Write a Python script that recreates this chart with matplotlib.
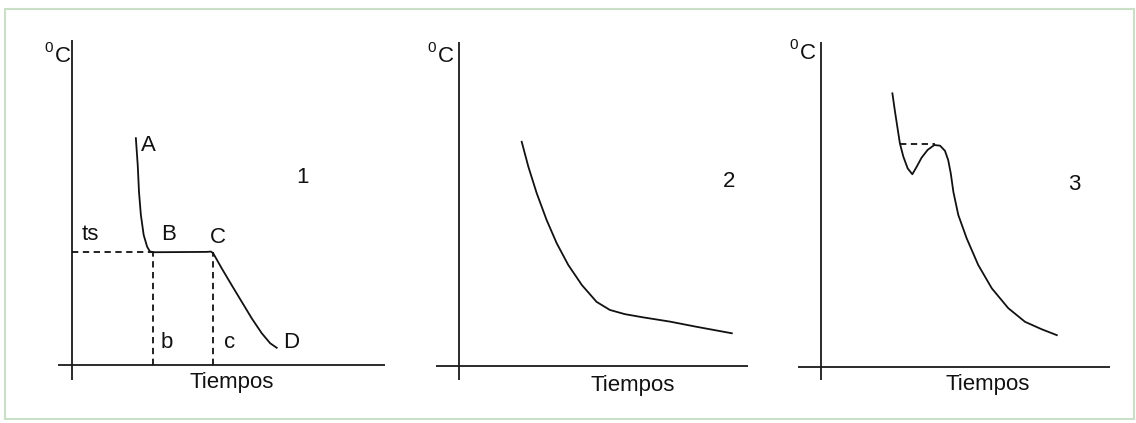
import matplotlib
matplotlib.use("Agg")
from matplotlib import pyplot as plt
from matplotlib.patches import Rectangle

plt.rcParams['font.family'] = ['Liberation Sans', 'DejaVu Sans']

# Curva 1: enfriamiento de un metal puro (A -> B -> C -> D)
t1 = [20.4, 21.0, 21.4, 22.0, 22.9, 24.0, 24.9, 26.5, 43.0, 44.4, 45.1,
      47.8, 51.0, 54.2, 57.4, 60.6, 63.3, 65.4]
T1 = [69.8, 61.5, 53.3, 46.2, 40.0, 36.4, 34.9, 34.7, 34.8, 34.9, 34.4,
      29.8, 24.6, 19.5, 14.4, 9.8, 6.7, 5.3]
ts_1 = 34.8   # temperatura de solidificacion
b_1 = 25.8    # inicio de solidificacion
c_1 = 45.1    # fin de solidificacion

# Curva 2: enfriamiento sin meseta
t2 = [21.7, 24.0, 26.9, 30.3, 33.8, 37.8, 42.5, 47.6, 52.2, 57.4, 63.8, 73.0, 82.2, 94.4]
T2 = [69.2, 61.5, 53.3, 45.1, 37.9, 31.2, 25.0, 19.8, 17.3, 16.0, 15.0, 13.7, 12.1, 10.1]

# Curva 3: subenfriamiento
t3 = [24.7, 25.6, 26.5, 27.3, 28.5, 30.0, 31.6, 33.1, 34.8, 36.9, 39.2, 41.2,
      42.9, 44.0, 44.9, 45.8, 47.5, 50.4, 54.4, 59.1, 64.8, 70.6, 76.4, 81.6]
T3 = [84.2, 78.6, 73.4, 68.8, 64.7, 61.1, 59.3, 61.6, 64.4, 66.8, 68.3, 68.1,
      66.5, 63.7, 59.6, 53.9, 46.8, 39.6, 31.4, 24.2, 18.1, 13.9, 11.6, 9.8]
meseta_3 = [27.3, 39.4]
T_meseta_3 = 68.5

W, H = 1136, 423
fig = plt.figure(figsize=(W / 100, H / 100), dpi=100)
fig.patch.set_facecolor('white')

# marco verde claro
fig.add_artist(Rectangle((5 / W, 4 / H), 1129 / W, 410 / H, transform=fig.transFigure,
                         fill=False, edgecolor='#c9dfc6', linewidth=1.5))


def crear_ejes(x_izq, x0, x_der, y_sup, y0, y_inf):
    """Ejes en pixeles de la figura; el origen queda en (x0, y0)."""
    ax = fig.add_axes([x_izq / W, 1 - y_inf / H, (x_der - x_izq) / W, (y_inf - y_sup) / H])
    ax.set_xlim(-(x0 - x_izq) / (x_der - x0) * 100, 100)
    ax.set_ylim(-(y_inf - y0) / (y0 - y_sup) * 100, 100)
    ax.axis('off')
    ax.axhline(0, color='#1a1a1a', linewidth=1.3)
    ax.axvline(0, color='#1a1a1a', linewidth=1.3)
    return ax


def etiqueta_grados(ax, x, y):
    ax.text(x, y, 'C', fontsize=16, ha='left', va='center', color='#111111')
    ax.annotate('0', (x, y), xytext=(-7.5, 6), textcoords='offset points',
                fontsize=11, ha='left', va='center', color='#111111',
                annotation_clip=False)


kw = dict(color='#111111', linewidth=1.3)
guiones = dict(linestyle='--', dashes=(3.5, 2.5), **kw)
txt = dict(fontsize=16, color='#111111', ha='center', va='center')

# Panel 1
ax1 = crear_ejes(58, 72, 385, 40, 365, 380)
ax1.plot(t1, T1, **kw)
ax1.plot([0, b_1], [ts_1, ts_1], **guiones)
ax1.plot([b_1, b_1], [0, ts_1], **guiones)
ax1.plot([c_1, c_1], [0, ts_1], **guiones)
etiqueta_grados(ax1, -5.4, 95)
ax1.text(24.5, 67.5, 'A', **txt)
ax1.text(5.8, 40.0, 'ts', **txt)
ax1.text(30.8, 40.0, 'B', **txt)
ax1.text(46.6, 39.3, 'C', **txt)
ax1.text(30.4, 6.8, 'b', **txt)
ax1.text(50.3, 6.8, 'c', **txt)
ax1.text(70.0, 6.8, 'D', **txt)
ax1.text(73.5, 57.6, '1', **txt)
ax1.text(51.1, -5.5, 'Tiempos', **txt)

# Panel 2
ax2 = crear_ejes(436, 459, 748, 42, 366, 380)
ax2.plot(t2, T2, **kw)
etiqueta_grados(ax2, -7.3, 95.5)
ax2.text(93.4, 56.8, '2', **txt)
ax2.text(60.2, -5.9, 'Tiempos', **txt)

# Panel 3
ax3 = crear_ejes(798, 821, 1110, 42, 367, 380)
ax3.plot(t3, T3, **kw)
ax3.plot(meseta_3, [T_meseta_3, T_meseta_3], **guiones)
etiqueta_grados(ax3, -7.3, 96.5)
ax3.text(87.5, 56.3, '3', **txt)
ax3.text(57.8, -5.5, 'Tiempos', **txt)

fig.savefig('out.png', dpi=100)
